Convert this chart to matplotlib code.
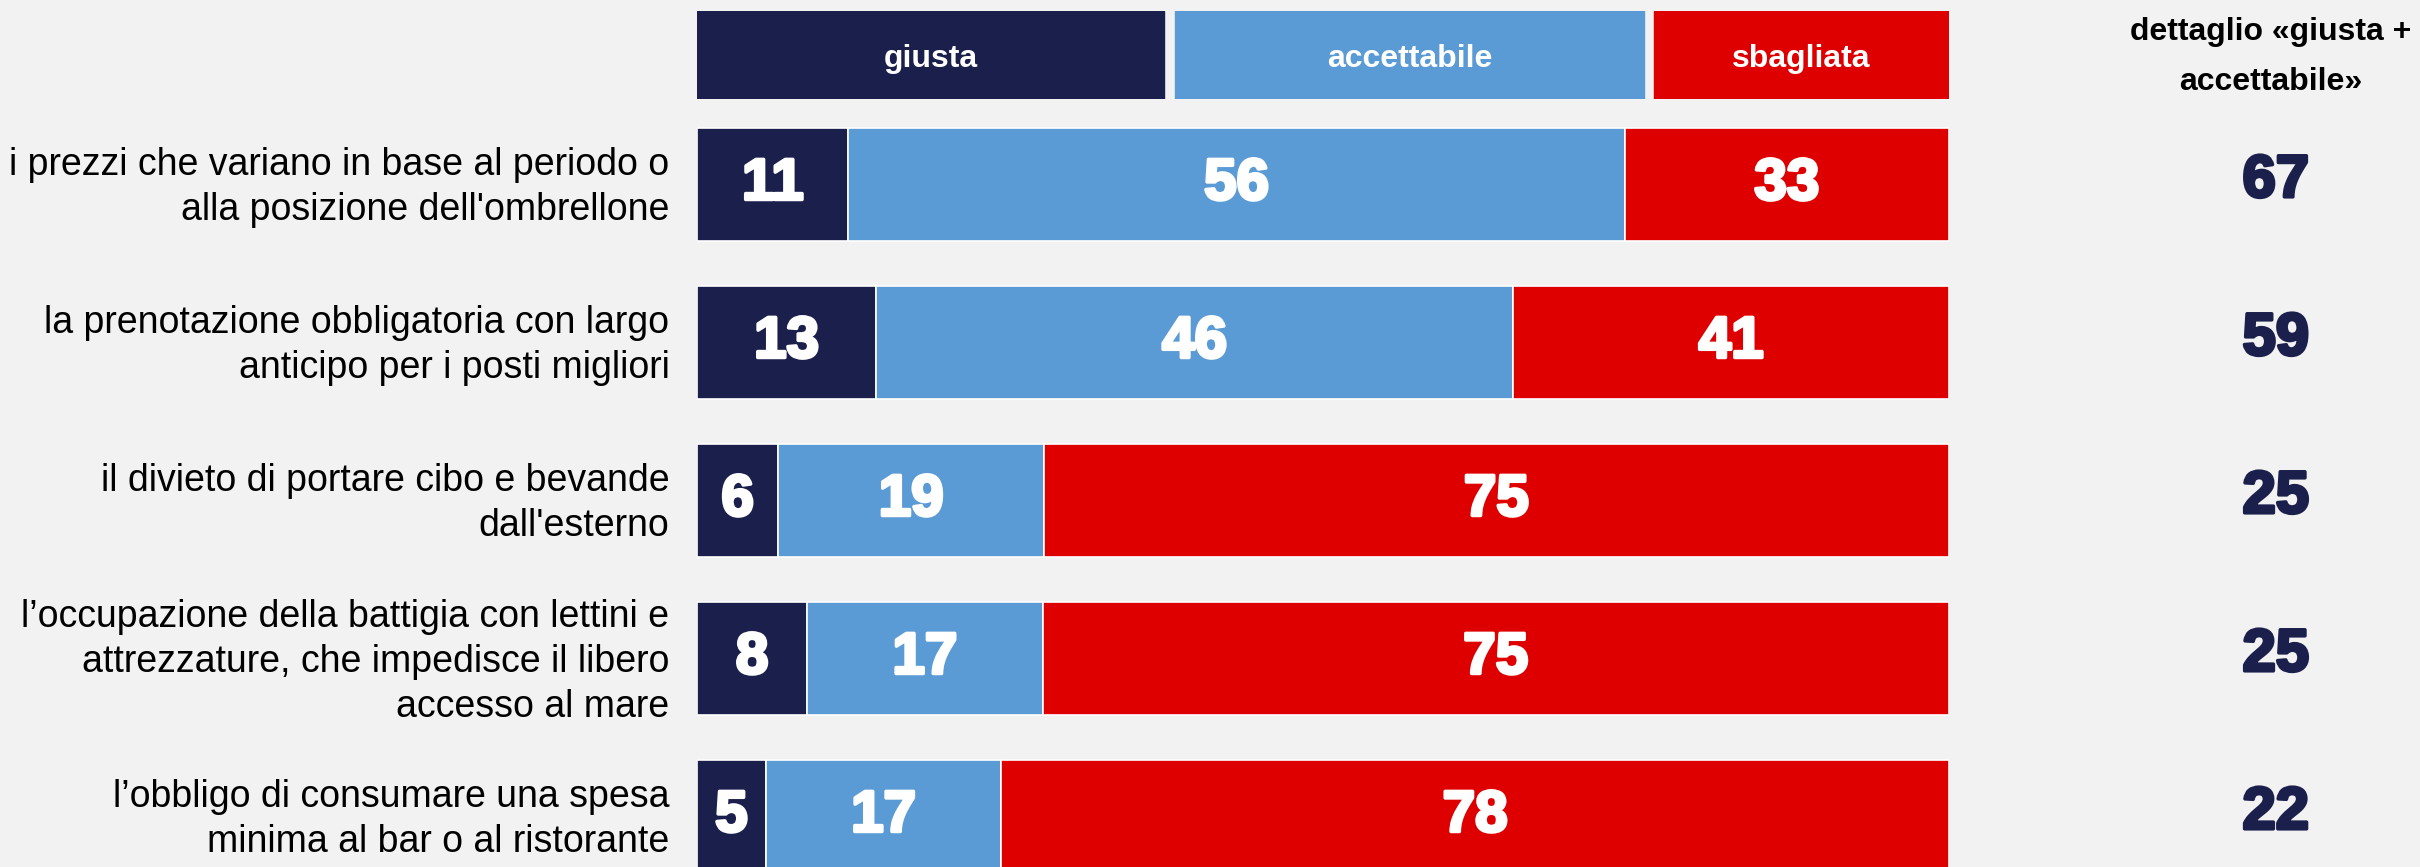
import matplotlib.pyplot as plt
import matplotlib.patheffects as pe
from matplotlib.patches import Rectangle

# data
items = [
    "i prezzi che variano in base al periodo o\nalla posizione dell'ombrellone",
    "la prenotazione obbligatoria con largo\nanticipo per i posti migliori",
    "il divieto di portare cibo e bevande\ndall'esterno",
    "l\u2019occupazione della battigia con lettini e\nattrezzature, che impedisce il libero\naccesso al mare",
    "l\u2019obbligo di consumare una spesa\nminima al bar o al ristorante",
]
# printed percentages
giusta = [11, 13, 6, 8, 5]
accettabile = [56, 46, 19, 17, 17]
sbagliata = [33, 41, 75, 75, 78]
dettaglio = [67, 59, 25, 25, 22]
# segment lengths as drawn in the picture (they differ slightly from the labels)
giusta_len = [12.1, 14.3, 6.5, 8.8, 5.5]
accettabile_len = [62.0, 50.9, 21.2, 18.8, 18.8]
sbagliata_len = [25.9, 34.8, 72.3, 72.4, 75.7]
series_names = ["giusta", "accettabile", "sbagliata"]

NAVY = "#1B1F4B"
BLUE = "#5B9BD5"
RED = "#DE0000"
BG = "#F2F2F2"
colors = [NAVY, BLUE, RED]

plt.rcParams["font.family"] = ["Liberation Sans", "DejaVu Sans"]

W, H = 2420, 867
fig = plt.figure(figsize=(W / 100, H / 100), dpi=100, facecolor=BG)

# main bar axes: x 0..100 spans the bar area, one row per item
ax = fig.add_axes([697 / W, (H - 895.5) / H, 1252 / W, 790 / H])
ax.set_facecolor(BG)
ax.set_xlim(0, 100)
ax.set_ylim(len(items) - 0.5, -0.5)
ax.axis("off")

# heavier numerals (reference uses a black-weight face)
heavy_white = [pe.withStroke(linewidth=2.5, foreground="white")]
heavy_navy = [pe.withStroke(linewidth=2.5, foreground=NAVY)]

ypos = list(range(len(items)))
left = [0] * len(items)
for lens, labs, col in zip([giusta_len, accettabile_len, sbagliata_len],
                           [giusta, accettabile, sbagliata], colors):
    ax.barh(ypos, lens, left=left, height=0.715, color=col,
            edgecolor="white", linewidth=1.2)
    for y, l, w, v in zip(ypos, left, lens, labs):
        ax.text(l + w / 2, y, str(v), ha="center", va="center",
                color="white", fontsize=42, fontweight="bold",
                path_effects=heavy_white)
    left = [l + w for l, w in zip(left, lens)]

for y, lab, d in zip(ypos, items, dettaglio):
    ax.text(-2.2, y + 0.02, lab, ha="right", va="center", fontsize=27,
            color="black", linespacing=1.32, clip_on=False)
    ax.text(126.1, y - 0.02, str(d), ha="center", va="center", fontsize=43,
            fontweight="bold", color=NAVY, path_effects=heavy_navy,
            clip_on=False)

# header boxes acting as legend
hax = fig.add_axes([697 / W, (H - 99) / H, 1252 / W, 88 / H])
hax.set_xlim(0, 100)
hax.set_ylim(0, 1)
hax.axis("off")
spans = [(0, 37.3), (38.2, 75.6), (76.4, 100)]
for (x0, x1), name, col in zip(spans, series_names, colors):
    hax.add_patch(Rectangle((x0, 0), x1 - x0, 1, color=col))
    hax.text((x0 + x1) / 2, 0.45, name, ha="center", va="center",
             color="white", fontsize=23, fontweight="bold")

fig.text(2271 / W, 1 - 57 / H, "dettaglio \u00abgiusta +\naccettabile\u00bb",
         ha="center", va="center", fontsize=23, fontweight="bold",
         linespacing=1.9)

fig.savefig("out.png", dpi=100, facecolor=BG)
